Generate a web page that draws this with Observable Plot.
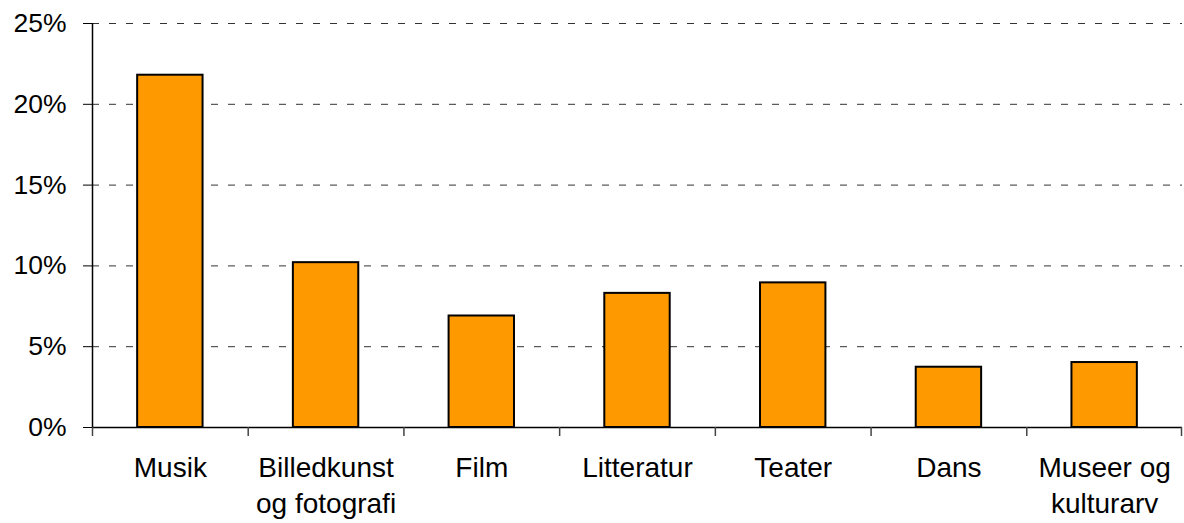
<!DOCTYPE html>
<html>
<head>
<meta charset="utf-8">
<script src="https://cdn.jsdelivr.net/npm/d3@7"></script>
<script src="https://cdn.jsdelivr.net/npm/@observablehq/plot@0.6"></script>
<style>
  html, body { margin: 0; padding: 0; background: #fff; }
  svg { display: block; }
</style>
</head>
<body>
<div id="chart"></div>
<script>
const categories = ["Musik", "Billedkunst og fotografi", "Film", "Litteratur", "Teater", "Dans", "Museer og kulturarv"];
const labels = ["Musik", "Billedkunst\nog fotografi", "Film", "Litteratur", "Teater", "Dans", "Museer og\nkulturarv"];
const values = [21.8, 10.2, 6.9, 8.3, 8.95, 3.73, 4.02];
const yTicks = [0, 5, 10, 15, 20, 25];

const data = categories.map((c, i) => ({category: c, value: values[i]}));
const labelOf = new Map(categories.map((c, i) => [c, labels[i]]));

const W = 1184, H = 523;
const mL = 92, mR = 2, mT = 23, mB = 96;
const step = (W - mL - mR) / categories.length;
const font = "'Liberation Sans', Arial, sans-serif";

const plot = Plot.plot({
  width: W,
  height: H,
  marginLeft: mL,
  marginRight: mR,
  marginTop: mT,
  marginBottom: mB,
  style: {fontFamily: font, background: "#fff", color: "#000"},
  x: {domain: categories, paddingInner: 0.58, paddingOuter: 0.29, round: false},
  y: {domain: [0, 25]},
  marks: [
    Plot.gridY(yTicks.filter(d => d > 0), {stroke: "#333", strokeOpacity: 1, strokeDasharray: "7,10", strokeWidth: 1}),
    Plot.barY(data, {x: "category", y: "value", fill: "#FF9900", stroke: "#000", strokeWidth: 2}),
    Plot.ruleY([0], {stroke: "#000", strokeWidth: 1.5}),
    // y axis line at the left edge of the first category band step
    Plot.ruleX(categories.slice(0, 1), {x: d => d, dx: -step / 2, y1: 0, y2: 25, stroke: "#000", strokeWidth: 1.5}),
    // category boundary ticks below the x axis
    Plot.ruleX(categories, {x: d => d, dx: -step / 2, y1: 0, y2: 0, insetBottom: -9, stroke: "#444", strokeWidth: 1.5}),
    Plot.ruleX(categories.slice(-1), {x: d => d, dx: step / 2 - 1, y1: 0, y2: 0, insetBottom: -9, stroke: "#444", strokeWidth: 1.5}),
    Plot.axisX({tickSize: 0, tickPadding: 24, fontSize: 28, lineHeight: 1.29, tickFormat: d => labelOf.get(d), label: null, fill: "#000"}),
    Plot.axisY(yTicks, {tickSize: 9, tickPadding: 17, fontSize: 26.5, tickFormat: d => d + "%", label: null, fill: "#000", stroke: "#000"})
  ]
});
document.getElementById("chart").appendChild(plot);
</script>
</body>
</html>
